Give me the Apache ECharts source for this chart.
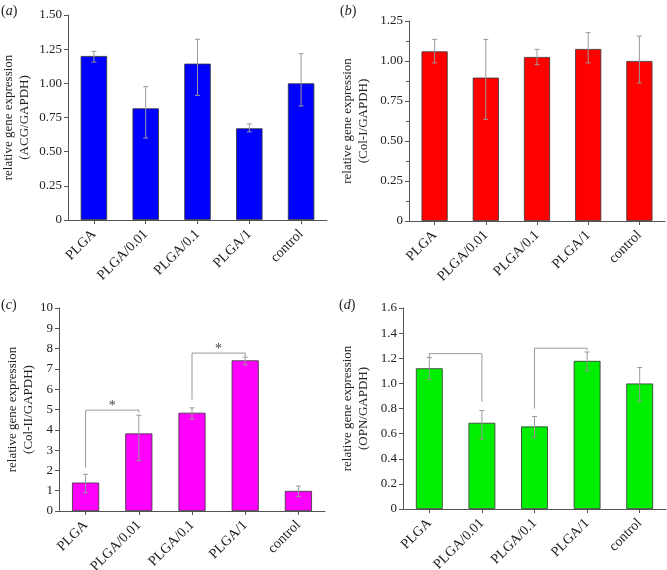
<!DOCTYPE html>
<html><head><meta charset="utf-8">
<script src="https://cdn.jsdelivr.net/npm/echarts@6/dist/echarts.min.js"></script>
<style>html,body{margin:0;padding:0;background:#fff}#c{width:667px;height:570px}</style>
</head><body><div id="c"></div>
<script>
const categories = ['PLGA', 'PLGA/0.01', 'PLGA/0.1', 'PLGA/1', 'control'];

// (a) ACG/GAPDH
const valuesA = [1.20, 0.817, 1.144, 0.671, 1.00];
const errLowA = [1.156, 0.60, 0.912, 0.645, 0.834];
const errHighA = [1.234, 0.976, 1.322, 0.703, 1.217];
// (b) Col-I/GAPDH
const valuesB = [1.060, 0.896, 1.025, 1.075, 1.00];
const errLowB = [0.988, 0.635, 0.977, 0.988, 0.863];
const errHighB = [1.135, 1.135, 1.073, 1.177, 1.156];
// (c) Col-II/GAPDH
const valuesC = [1.40, 3.82, 4.84, 7.42, 0.99];
const errLowC = [0.90, 2.48, 4.52, 7.20, 0.71];
const errHighC = [1.81, 4.72, 5.08, 7.58, 1.23];
// (d) OPN/GAPDH
const valuesD = [1.12, 0.686, 0.657, 1.179, 0.999];
const errLowD = [1.03, 0.556, 0.572, 1.10, 0.856];
const errHighD = [1.205, 0.784, 0.736, 1.25, 1.126];

// significance brackets: [fromIndex, toIndex, leftY, topY, rightY, label]
const bracketsC = [[0, 1, 2.14, 4.97, 4.85, '*'], [2, 3, 5.48, 7.78, 7.62, '*']];
const bracketsD = [[0, 1, 1.205, 1.237, 0.853, ''], [2, 3, 0.80, 1.28, 1.264, '']];

// y axis settings per panel
const yMax = [1.5, 1.25, 10, 1.6];
const yInterval = [0.25, 0.25, 1, 0.2];
const yDecimals = [2, 2, 0, 1];
const yNames = ['relative gene expression\n(ACG/GAPDH)', 'relative gene expression\n(Col-I/GAPDH)',
                'relative gene expression\n(Col-II/GAPDH)', 'relative gene expression\n(OPN/GAPDH)'];
const panelLetters = ['a', 'b', 'c', 'd'];
const barColors = ['#0000ff', '#ff0000', '#ff00ff', '#00ee00'];

const grids = [
  {left: 68, top: 15, width: 259, height: 205, outerBoundsMode: 'none', containLabel: false},
  {left: 409, top: 21, width: 256, height: 200, outerBoundsMode: 'none', containLabel: false},
  {left: 59, top: 308, width: 266, height: 203, outerBoundsMode: 'none', containLabel: false},
  {left: 403, top: 308, width: 263, height: 201, outerBoundsMode: 'none', containLabel: false}
];
const nameGaps = [35, 37, 21, 31];
const letterPos = [[1, 4], [340, 4], [1, 298], [339, 298]];

const values = [valuesA, valuesB, valuesC, valuesD];
const lows = [errLowA, errLowB, errLowC, errLowD];
const highs = [errHighA, errHighB, errHighC, errHighD];
const brackets = [[], [], bracketsC, bracketsD];

const FONT = 'Liberation Serif';
const xAxes = [], yAxes = [], series = [];
grids.forEach((g, i) => {
  xAxes.push({
    type: 'category', gridIndex: i, data: categories,
    axisLine: {lineStyle: {color: '#555', width: 1}},
    axisTick: {show: true, alignWithLabel: true, length: 4, lineStyle: {color: '#555'}},
    axisLabel: {rotate: 45, fontFamily: FONT, fontSize: 14, color: '#222', margin: 12, interval: 0}
  });
  yAxes.push({
    type: 'value', gridIndex: i, min: 0, max: yMax[i], interval: yInterval[i],
    name: yNames[i], nameLocation: 'middle', nameGap: nameGaps[i],
    nameTextStyle: {fontFamily: FONT, fontSize: 13, color: '#222', lineHeight: 16},
    axisLine: {show: true, lineStyle: {color: '#555', width: 1}},
    axisTick: {show: true, length: 4, lineStyle: {color: '#555'}},
    minorTick: {show: i === 1, splitNumber: 2, length: 3, lineStyle: {color: '#555'}},
    splitLine: {show: false},
    axisLabel: {fontFamily: FONT, fontSize: 13, color: '#222', margin: 6,
      formatter: v => v === 0 ? '0' : v.toFixed(yDecimals[i])}
  });
});

grids.forEach((g, i) => {
  series.push({
    type: 'bar', xAxisIndex: i, yAxisIndex: i, data: values[i], barWidth: '51%',
    itemStyle: {color: barColors[i], borderColor: '#333', borderWidth: 0.8}, z: 2
  });
  series.push({
    type: 'custom', xAxisIndex: i, yAxisIndex: i, z: 3,
    data: categories.map((c, k) => [k, lows[i][k], highs[i][k]]),
    encode: {x: 0, y: [1, 2]},
    renderItem: (params, api) => {
      const lo = api.coord([api.value(0), api.value(1)]);
      const hi = api.coord([api.value(0), api.value(2)]);
      const w = 2.5;
      const st = {stroke: '#999', lineWidth: 1};
      return {type: 'group', children: [
        {type: 'line', shape: {x1: hi[0], y1: hi[1], x2: lo[0], y2: lo[1]}, style: st},
        {type: 'line', shape: {x1: hi[0] - w, y1: hi[1], x2: hi[0] + w, y2: hi[1]}, style: st},
        {type: 'line', shape: {x1: lo[0] - w, y1: lo[1], x2: lo[0] + w, y2: lo[1]}, style: st}
      ]};
    }
  });
  if (brackets[i].length) {
    const br = brackets[i];
    series.push({
      type: 'custom', xAxisIndex: i, yAxisIndex: i, z: 4,
      data: br.map(b => [b[0], b[3]]),
      encode: {x: 0, y: 1},
      renderItem: (params, api) => {
        const b = br[params.dataIndex];
        const p1 = api.coord([b[0], b[2]]);
        const p2 = api.coord([b[0], b[3]]);
        const p3 = api.coord([b[1], b[3]]);
        const p4 = api.coord([b[1], b[4]]);
        const children = [{type: 'polyline', shape: {points: [p1, p2, p3, p4]},
          style: {stroke: '#999', lineWidth: 1, fill: null}}];
        if (b[5]) {
          children.push({type: 'text', x: (p2[0] + p3[0]) / 2, y: p2[1] + 3,
            style: {text: b[5], fontFamily: FONT, fontSize: 14, fill: '#444',
              align: 'center', verticalAlign: 'bottom'}});
        }
        return {type: 'group', children: children};
      }
    });
  }
});

const graphic = panelLetters.map((l, i) => ({
  type: 'text', left: letterPos[i][0], top: letterPos[i][1],
  style: {text: '{p|(}{i|' + l + '}{p|)}', rich: {
    p: {fontFamily: FONT, fontSize: 14, fill: '#222'},
    i: {fontFamily: FONT, fontSize: 14, fontStyle: 'italic', fill: '#222'}
  }}
}));

const chart = echarts.init(document.getElementById('c'), null, {renderer: 'canvas'});
chart.setOption({
  animation: false,
  grid: grids,
  xAxis: xAxes,
  yAxis: yAxes,
  series: series,
  graphic: graphic
});
</script></body></html>
